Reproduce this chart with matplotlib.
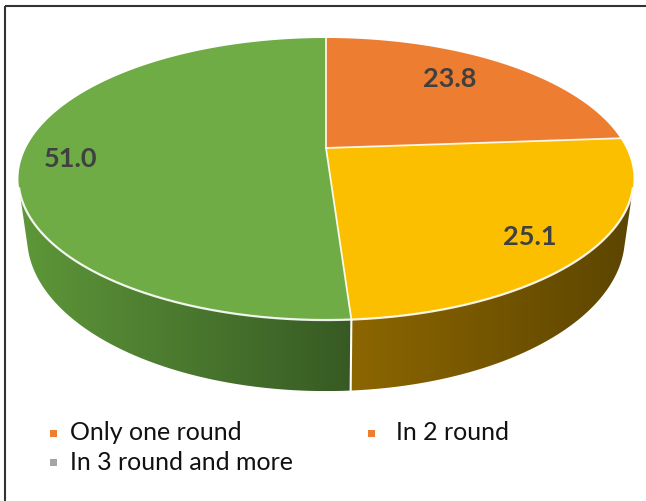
import numpy as np
import matplotlib
matplotlib.use("Agg")
import matplotlib.pyplot as plt
from matplotlib.patches import Polygon, Rectangle
from matplotlib.colors import LinearSegmentedColormap

# ---- data ----
categories = ["Only one round", "In 2 round", "In 3 round and more"]
values = [23.8, 25.1, 51.0]
top_colors = ["#ED7D31", "#FBBF00", "#6FAC46"]
side_colors = [("#B35E25", "#8A4A1C"), ("#8C6600", "#5C4500"), ("#5E9739", "#375A24")]
legend_colors = ["#ED7D31", "#ED7D31", "#A5A5A5"]
# label anchor (angle clockwise from 12 o'clock, radial fraction)
label_pos = [(38.8, 0.74), (134.4, 0.83), (264.5, 0.84)]

# ---- 3D pie geometry (pixel space) ----
CX, CY = 326.0, 148.0
A, B, K = 134.2, 300.0, 0.22   # vertical / horizontal radius, perspective factor
H = 55.4                       # extrusion depth
S = 0.972                      # bottom rim pulled toward the axis (downward convergence)


def proj(theta_deg, r=1.0, drop=0.0):
    t = np.radians(theta_deg)
    u = r * np.sin(t)
    v = r * np.cos(t)
    den = 1 + K * v
    x = CX + B * u / den
    y = CY - A * v / den
    if drop:
        x = CX + (x - CX) * (1 - (1 - S) * drop)
        y = y + drop * H / den
    return x, y


def silhouette_angle():
    # angle on the front-right where the wall generator is tangent to the top rim
    th = np.linspace(90, 180, 9001)
    tx, ty = proj(th)
    bx, by = proj(th, drop=1.0)
    dx, dy = np.gradient(tx), np.gradient(ty)
    gx, gy = bx - tx, by - ty
    cross = dx * gy - dy * gx
    idx = np.where(np.sign(cross[:-1]) != np.sign(cross[1:]))[0]
    return th[idx[0]] if len(idx) else np.degrees(np.arccos(-K))


fig = plt.figure(figsize=(6.46, 5.01), dpi=100)
ax = fig.add_axes([0, 0, 1, 1])
ax.set_xlim(0, 646)
ax.set_ylim(501, 0)
ax.axis("off")

total = sum(values)
edges = np.concatenate([[0.0], np.cumsum(values)]) / total * 360.0
vis0 = silhouette_angle()
vis1 = 360.0 - vis0

# side walls with horizontal gradients
for i, (a0, a1) in enumerate(zip(edges[:-1], edges[1:])):
    s0, s1 = max(a0, vis0), min(a1, vis1)
    if s0 >= s1:
        continue
    th = np.linspace(s0, s1, 160)
    tx, ty = proj(th)
    bx, by = proj(th[::-1], drop=1.0)
    pts = np.column_stack([np.concatenate([tx, bx]), np.concatenate([ty, by])])
    patch = Polygon(pts, closed=True, facecolor="none", edgecolor="none")
    ax.add_patch(patch)
    cmap = LinearSegmentedColormap.from_list(f"side{i}", list(side_colors[i]))
    x0, x1 = pts[:, 0].min(), pts[:, 0].max()
    y0, y1 = pts[:, 1].min(), pts[:, 1].max()
    im = ax.imshow(np.linspace(0, 1, 256)[None, :], cmap=cmap, aspect="auto",
                   extent=(x0, x1, y1, y0), interpolation="bilinear", zorder=1)
    im.set_clip_path(patch)

# white separators on the wall
for a in edges[1:-1]:
    if vis0 < a < vis1:
        (x_t, y_t), (x_b, y_b) = proj(a), proj(a, drop=1.0)
        ax.plot([x_t, x_b], [y_t, y_b], color="white", lw=1.5, zorder=2)

ax.set_xlim(0, 646)
ax.set_ylim(501, 0)

# top faces
for i, (a0, a1) in enumerate(zip(edges[:-1], edges[1:])):
    th = np.linspace(a0, a1, 200)
    ax_, ay_ = proj(th)
    xs = np.concatenate([[CX], ax_])
    ys = np.concatenate([[CY], ay_])
    ax.add_patch(Polygon(np.column_stack([xs, ys]), closed=True,
                         facecolor=top_colors[i], edgecolor="none", zorder=3))

for a in edges[:-1]:
    x_r, y_r = proj(a)
    ax.plot([CX, x_r], [CY, y_r], color="white", lw=1.3, alpha=0.9, zorder=4)

th = np.linspace(vis0, vis1, 300)
rx, ry = proj(th)
ax.plot(rx, ry, color="white", lw=1.6, alpha=0.9, zorder=4)

# value labels
for val, (ang, rr) in zip(values, label_pos):
    lx, ly = proj(ang, rr)
    ax.text(lx, ly, f"{val:.1f}", ha="center", va="center", fontsize=19.5,
            fontweight="bold", family="Lato", color="#404040", zorder=5)

# legend
legend_xy = [(50, 433), (368, 433), (50, 462)]
text_x = [70, 396, 70]
for name, col, (mx, my), tx in zip(categories, legend_colors, legend_xy, text_x):
    ax.add_patch(Rectangle((mx, my - 3.5), 7, 7, facecolor=col, edgecolor="none", zorder=5))
    ax.text(tx, my, name, ha="left", va="center", fontsize=18, family="Lato",
            color="#111111", zorder=5)

# chart frame
ax.plot([5, 646], [6, 6], color="#333333", lw=1.5, zorder=6, solid_capstyle="butt")
ax.plot([5, 5], [6, 501], color="#333333", lw=1.5, zorder=6, solid_capstyle="butt")

fig.savefig("out.png", dpi=100, facecolor="white")
